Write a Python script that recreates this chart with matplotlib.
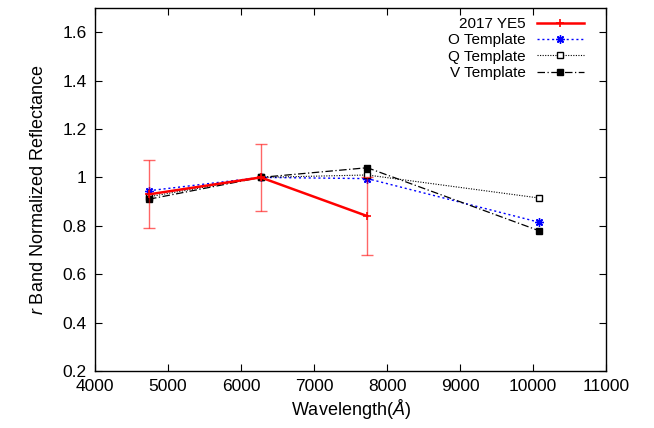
import matplotlib
matplotlib.use('Agg')
import matplotlib.pyplot as plt

# Data
wavelength = [4740, 6270, 7730, 10080]
ye5_refl = [0.93, 1.00, 0.84]
ye5_err = [0.14, 0.14, 0.16]
o_template = [0.945, 1.00, 0.995, 0.815]
q_template = [0.92, 1.00, 1.01, 0.915]
v_template = [0.91, 1.00, 1.04, 0.78]

plt.rcParams['font.family'] = ['Liberation Sans', 'DejaVu Sans']
plt.rcParams['mathtext.fontset'] = 'custom'
plt.rcParams['mathtext.rm'] = 'Liberation Sans'
plt.rcParams['mathtext.it'] = 'Liberation Sans:italic'

fig = plt.figure(figsize=(6.54, 4.28), dpi=100)
ax = fig.add_axes([0.1453, 0.1332, 0.7813, 0.8481])

# templates
ax.plot(wavelength, o_template, color='blue', linestyle=(0, (1.5, 2)), linewidth=1,
        marker=(8, 2, 0), markersize=6, markeredgewidth=1, label='O Template')
ax.plot(wavelength, q_template, color='black', linestyle=(0, (1, 1.3)), linewidth=0.8,
        marker='s', markersize=5, markerfacecolor='white', markeredgewidth=1,
        label='Q Template')
ax.plot(wavelength, v_template, color='black', linestyle=(0, (6, 2, 1, 2)), linewidth=0.9,
        marker='s', markersize=5, label='V Template')

# asteroid with error bars
ax.errorbar(wavelength[:3], ye5_refl, yerr=ye5_err, fmt='none', ecolor='red',
            elinewidth=1, capsize=4, alpha=0.6, zorder=4)
ax.plot(wavelength[:3], ye5_refl, color='red', linewidth=1.8, marker='+',
        markersize=6, markeredgewidth=1.2, label='2017 YE5', zorder=5)

ax.set_xlim(4000, 11000)
ax.set_ylim(0.2, 1.7)
ax.set_xticks(range(4000, 11001, 1000))
ax.set_yticks([0.2, 0.4, 0.6, 0.8, 1.0, 1.2, 1.4, 1.6])
ax.set_yticklabels(['0.2', '0.4', '0.6', '0.8', '1', '1.2', '1.4', '1.6'])
ax.tick_params(direction='in', top=True, right=True, length=5, labelsize=12.5, pad=6)
for s in ax.spines.values():
    s.set_linewidth(1)

ax.set_xlabel('Wavelength($Å$)', fontsize=13, labelpad=2)
ax.set_ylabel('$r$ Band Normalized Reflectance', fontsize=13, labelpad=11)

handles, labels = ax.get_legend_handles_labels()
order = [3, 0, 1, 2]
ax.legend([handles[i] for i in order], [labels[i] for i in order],
          loc='upper right', frameon=False, markerfirst=False, fontsize=11,
          handlelength=3.1, labelspacing=0.15, borderaxespad=0.2, handletextpad=0.7,
          bbox_to_anchor=(0.975, 1.0))

plt.savefig('out.png', dpi=100)
plt.close()
